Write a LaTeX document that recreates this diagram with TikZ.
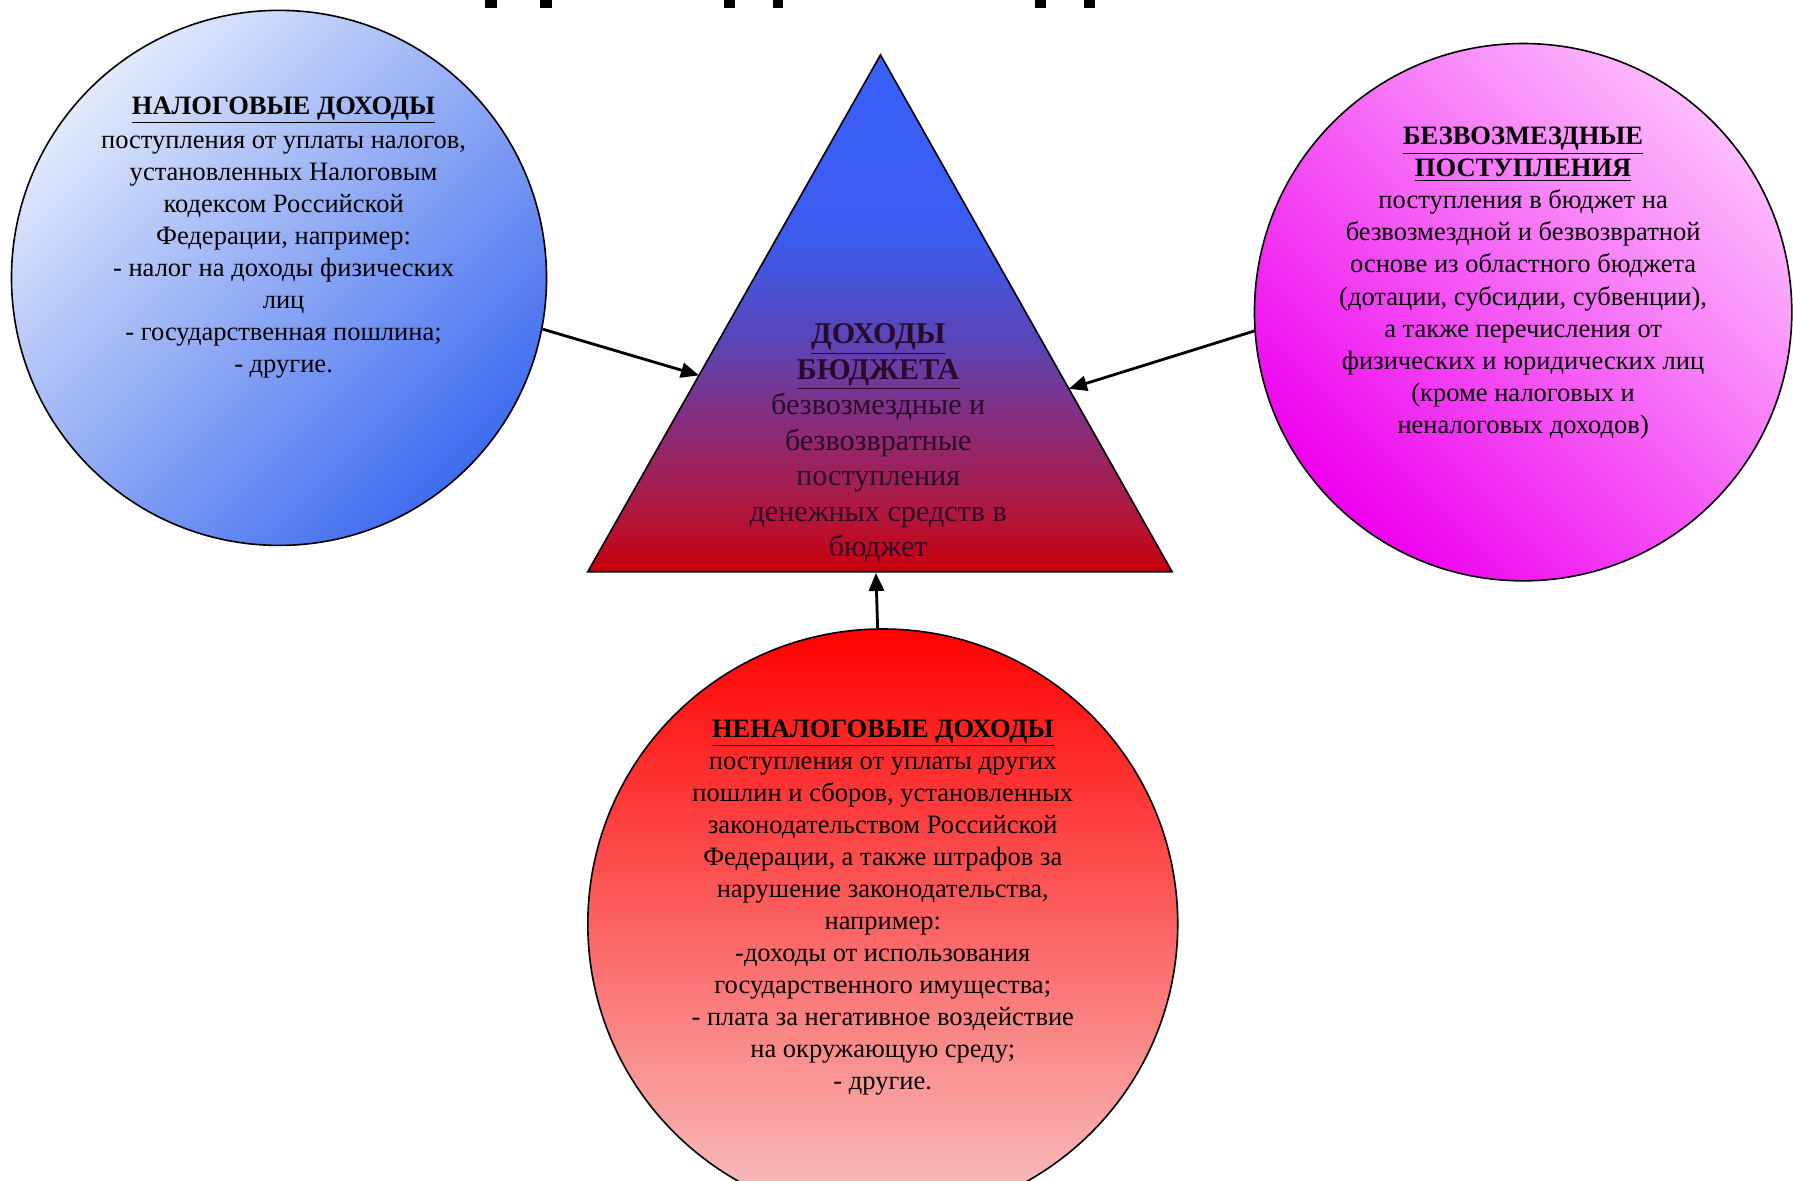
\documentclass[tikz,border=0pt]{standalone}
\usepackage{fontspec}
\setmainfont{Liberation Serif}
\usetikzlibrary{arrows.meta,calc}
\definecolor{lblueA}{HTML}{E2EAFC}
\definecolor{lblueM}{HTML}{90AAF4}
\definecolor{lblueB}{HTML}{3F6CF0}
\definecolor{pinkA}{HTML}{FCBCFC}
\definecolor{pinkM}{HTML}{F560F5}
\definecolor{pinkB}{HTML}{EE00EE}
\definecolor{redA}{HTML}{FF0000}
\definecolor{redB}{HTML}{F8C4C4}
\definecolor{tritext}{HTML}{2A0A2A}
\pgfdeclareverticalshading{trishade}{100bp}{%
  rgb(0bp)=(0.784,0,0.047);
  rgb(25bp)=(0.784,0,0.047);
  rgb(31bp)=(0.69,0.094,0.25);
  rgb(39bp)=(0.54,0.17,0.47);
  rgb(47.5bp)=(0.35,0.27,0.72);
  rgb(57.5bp)=(0.235,0.36,0.94);
  rgb(75bp)=(0.227,0.376,0.973);
  rgb(100bp)=(0.227,0.376,0.973)}
\begin{document}
\begin{tikzpicture}[x=0.02cm, y=-0.02cm,
  bubble/.style={circle, draw=black, line width=0.8pt, inner sep=0pt},
  txt/.style={align=center, inner sep=0pt, font=\fontsize{13.2}{15.94}\selectfont},
  tritxt/.style={align=center, inner sep=0pt, text=tritext, font=\fontsize{15}{17.64}\selectfont},
  conn/.style={line width=1.4pt, -{Triangle[length=9pt,width=7.5pt]}},
  frag/.style={fill=black, draw=none}]
\useasboundingbox (0,0) rectangle (1568,1032);
\clip (0,0) rectangle (1568,1032);
% fragments of the cut-off title
\fill[frag] (424,-2) rectangle (435,7);
\fill[frag] (472,-2) rectangle (483,7);
\fill[frag] (633,-2) rectangle (643,7);
\fill[frag] (676,-2) rectangle (685,7);
\fill[frag] (905,-2) rectangle (915,7);
\fill[frag] (948,-2) rectangle (958,7);
% circles
\node[bubble, minimum size=9.36cm, top color=lblueA, bottom color=lblueB, middle color=lblueM, shading angle=45] (lc) at (244,243) {};
\node[bubble, minimum size=9.4cm, top color=pinkA, bottom color=pinkB, middle color=pinkM, shading angle=-45] (rc) at (1332,273) {};
\node[bubble, minimum size=10.32cm, top color=redA, bottom color=redB] (bc) at (772,808) {};
% triangle
\coordinate (apex) at (770,48);
\coordinate (bl) at (514,500);
\coordinate (br) at (1025,500);
\path[shading=trishade] (apex) -- (br) -- (bl) -- cycle;
\draw[line width=0.8pt] (apex) -- (br) -- (bl) -- cycle;
\coordinate (tipL) at ($(apex)!0.62!(bl)$);
\coordinate (tipR) at ($(apex)!0.646!(br)$);
\coordinate (tipB) at (766,501);
% texts
\node[txt, anchor=north] (ltx) at (248,84) {\underline{\textbf{НАЛОГОВЫЕ ДОХОДЫ}}\\[1pt]
поступления от уплаты налогов,\\ установленных Налоговым\\ кодексом Российской\\ Федерации, например:\\ - налог на доходы физических\\ лиц\\ - государственная пошлина;\\ - другие.};
\node[txt, anchor=north] (rtx) at (1332,111) {\underline{\textbf{БЕЗВОЗМЕЗДНЫЕ}}\\ \underline{\textbf{ПОСТУПЛЕНИЯ}}\\
поступления в бюджет на\\ безвозмездной и безвозвратной\\ основе из областного бюджета\\ (дотации, субсидии, субвенции),\\ а также перечисления от\\ физических и юридических лиц\\ (кроме налоговых и\\ неналоговых доходов)};
\node[tritxt, anchor=north] (ttx) at (768,283) {\underline{\textbf{ДОХОДЫ}}\\ \underline{\textbf{БЮДЖЕТА}}\\
безвозмездные и\\ безвозвратные\\ поступления\\ денежных средств в\\ бюджет};
\node[txt, anchor=north] (btx) at (772,629) {\underline{\textbf{НЕНАЛОГОВЫЕ ДОХОДЫ}}\\
поступления от уплаты других\\ пошлин и сборов, установленных\\ законодательством Российской\\ Федерации, а также штрафов за\\ нарушение законодательства,\\ например:\\ -доходы от использования\\ государственного имущества;\\ - плата за негативное воздействие\\ на окружающую среду;\\ - другие.};
% connectors
\draw[conn] (lc.-11) -- (tipL);
\draw[conn] (rc.184) -- (tipR);
\draw[conn] (bc.91.3) -- (tipB);
\end{tikzpicture}
\end{document}
